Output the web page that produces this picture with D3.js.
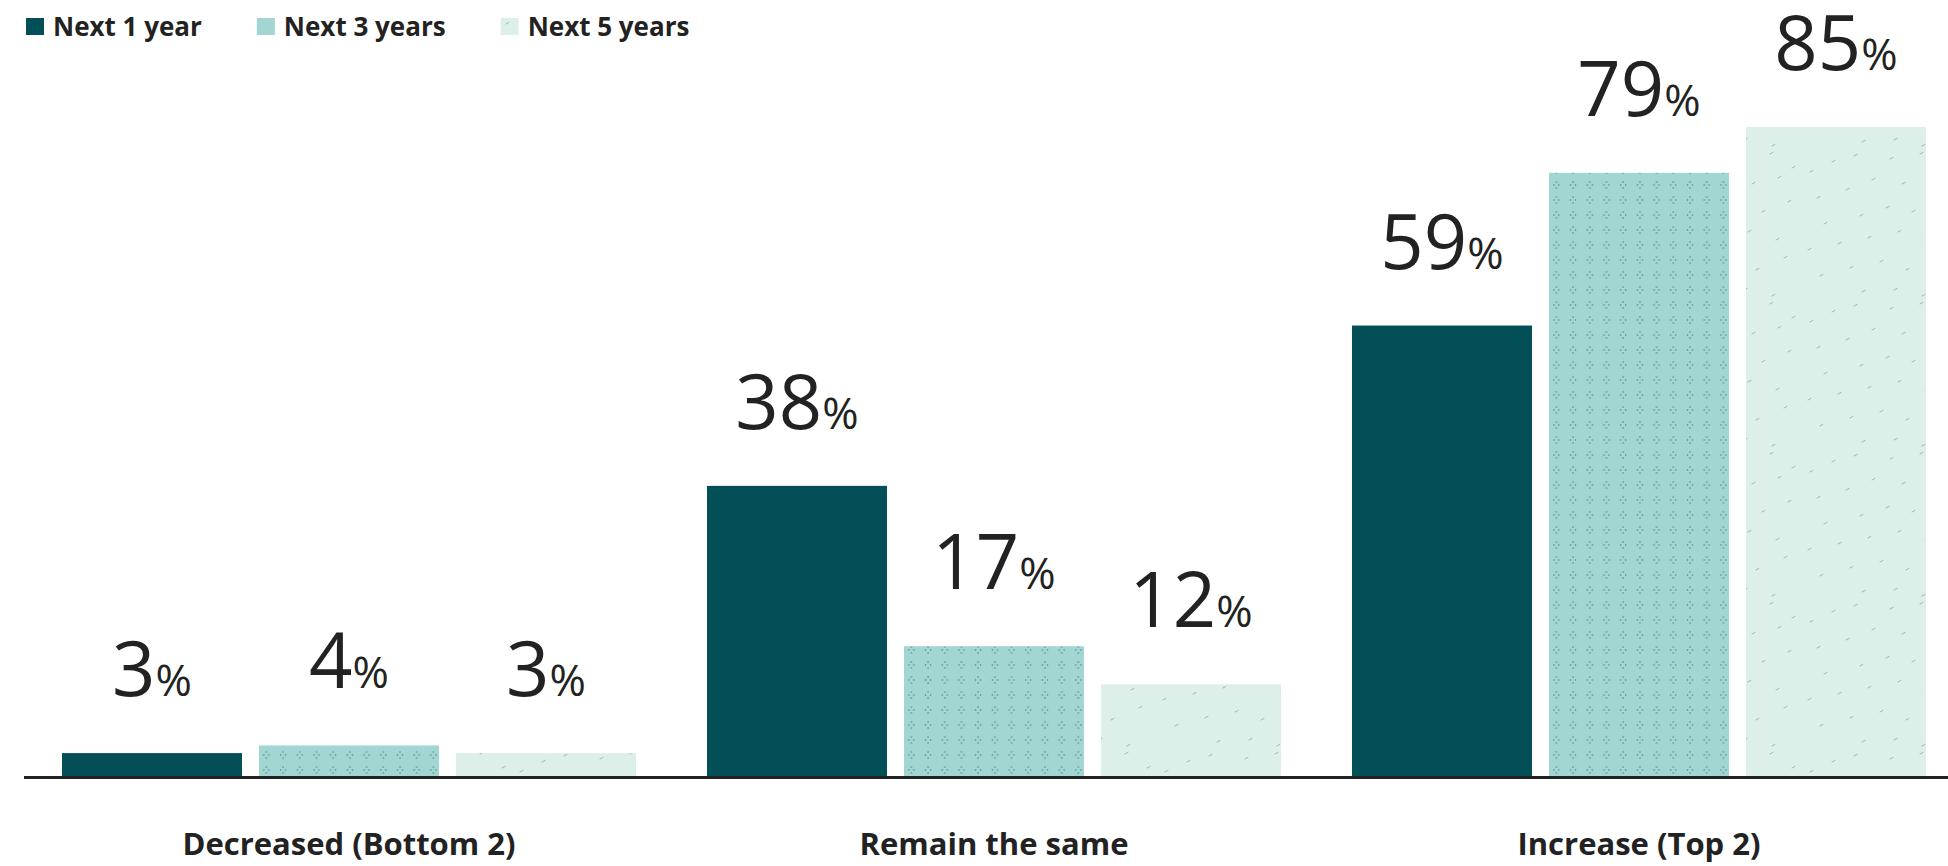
<!DOCTYPE html>
<html>
<head>
<meta charset="utf-8">
<script src="https://cdn.jsdelivr.net/npm/d3@7"></script>
<style>
  html, body { margin: 0; padding: 0; background: #ffffff; }
  svg { display: block; font-family: "Open Sans", "Noto Sans", sans-serif; }
</style>
</head>
<body>
<svg id="chart" width="1948" height="866"></svg>
<script>
// ---- data ----
const categories = ["Decreased (Bottom 2)", "Remain the same", "Increase (Top 2)"];
const seriesNames = ["Next 1 year", "Next 3 years", "Next 5 years"];
const next1Year = [3, 38, 59];
const next3Years = [4, 17, 79];
const next5Years = [3, 12, 85];
const seriesValues = [next1Year, next3Years, next5Years];

// ---- layout ----
const W = 1948, H = 866;
const baseline = 776;
const svg = d3.select("#chart");

const x0 = d3.scaleBand().domain(categories).range([26.5, 1961.5])
  .paddingInner(0.11).paddingOuter(0.055);
const x1 = d3.scaleBand().domain(seriesNames).range([0, x0.bandwidth()])
  .paddingInner(0.0863).paddingOuter(0);
const y = d3.scaleLinear().domain([0, 100]).range([baseline, 12.5]);

const fills = ["#024f58", "url(#dots)", "url(#specks)"];
const swatch = ["#024f58", "#a2d6d2", "url(#specksLegend)"];

// ---- patterns ----
const defs = svg.append("defs");
const pd = defs.append("pattern").attr("id", "dots").attr("patternUnits", "userSpaceOnUse")
  .attr("width", 16.7).attr("height", 15);
pd.append("rect").attr("width", 16.7).attr("height", 15).attr("fill", "#a2d6d2");
[[4, 2], [1.5, 5], [6.5, 5], [4, 8]].forEach(([cx, cy]) => {
  pd.append("circle").attr("cx", cx).attr("cy", cy).attr("r", 0.75).attr("fill", "#2f6466").attr("opacity", 0.75);
});

function specks(id, size, marks) {
  const p = defs.append("pattern").attr("id", id).attr("patternUnits", "userSpaceOnUse")
    .attr("width", size).attr("height", size);
  p.append("rect").attr("width", size).attr("height", size).attr("fill", "#dcefe8");
  marks.forEach(([mx, my]) => {
    p.append("line").attr("x1", mx).attr("y1", my).attr("x2", mx + 3).attr("y2", my - 1.6)
      .attr("stroke", "#7f9f99").attr("stroke-width", 1).attr("stroke-linecap", "round").attr("opacity", 0.7);
  });
}
specks("specks", 150, [[8,22],[30,12],[52,6],[88,9],[118,4],[140,18],[15,48],[44,40],[70,30],[100,34],[126,28],
  [22,74],[58,66],[84,58],[110,62],[136,52],[6,100],[36,94],[66,88],[96,82],[124,90],[18,126],[48,118],[78,112],
  [104,120],[132,108],[60,142],[92,140],[120,146]]);
specks("specksLegend", 18, [[2,6]]);

// ---- axis line ----
svg.append("line").attr("x1", 24).attr("x2", W).attr("y1", baseline + 1.5).attr("y2", baseline + 1.5)
  .attr("stroke", "#222").attr("stroke-width", 3);

// ---- bars ----
const groups = svg.append("g").selectAll("g").data(categories).join("g")
  .attr("transform", d => `translate(${x0(d)},0)`);

groups.each(function(cat, ci) {
  const g = d3.select(this);
  seriesNames.forEach((s, si) => {
    const v = seriesValues[si][ci];
    g.append("rect")
      .attr("x", x1(s)).attr("width", x1.bandwidth())
      .attr("y", y(v)).attr("height", baseline - y(v))
      .attr("fill", fills[si]);
    const t = g.append("text")
      .attr("x", x1(s) + x1.bandwidth() / 2)
      .attr("y", y(v) - 57)
      .attr("text-anchor", "middle")
      .attr("fill", "#222");
    t.append("tspan").attr("font-size", 76).text(v);
    t.append("tspan").attr("font-size", 44).text("%");
  });
});

// ---- category labels ----
svg.append("g").selectAll("text").data(categories).join("text")
  .attr("x", d => x0(d) + x0.bandwidth() / 2)
  .attr("y", 855)
  .attr("text-anchor", "middle")
  .attr("font-size", 31).attr("font-weight", 700).attr("fill", "#222")
  .text(d => d);

// ---- legend ----
const legend = svg.append("g");
let lx = 26;
seriesNames.forEach((s, i) => {
  legend.append("rect").attr("x", lx).attr("y", 18).attr("width", 18).attr("height", 17).attr("fill", swatch[i]);
  const t = legend.append("text").attr("x", lx + 27).attr("y", 36)
    .attr("font-size", 26).attr("font-weight", 700).attr("fill", "#222").text(s);
  lx += 27 + t.node().getComputedTextLength() + 55;
});
</script>
</body>
</html>
